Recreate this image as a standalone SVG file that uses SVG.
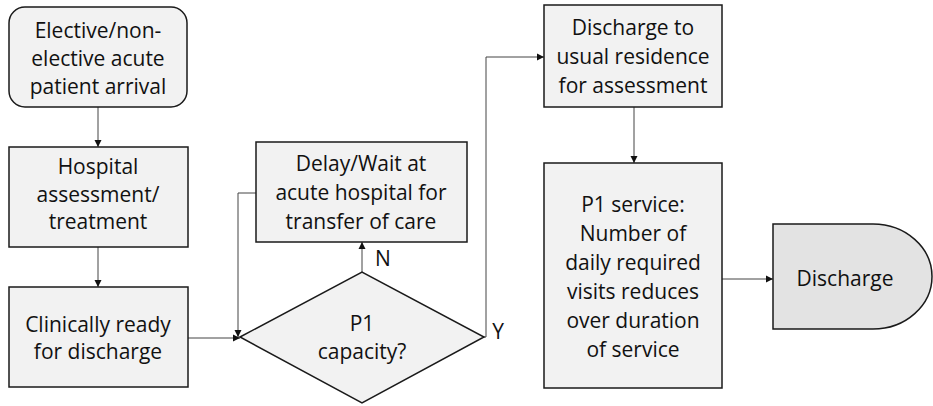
<svg xmlns="http://www.w3.org/2000/svg" width="933" height="406" viewBox="0 0 933 406">
<defs>
<style>
.box{fill:#f2f2f2;stroke:#1a1a1a;stroke-width:1.5}
.dark{fill:#e3e3e3;stroke:#1a1a1a;stroke-width:1.5}
.t{font-family:"Open Sans","Liberation Sans",sans-serif;font-size:21px;fill:#111;text-anchor:middle}
.c{fill:none;stroke:#444;stroke-width:1}
</style>
<marker id="ah" markerWidth="8" markerHeight="8" refX="7" refY="4" orient="auto" markerUnits="userSpaceOnUse">
<path d="M0,0.5 L7,4 L0,7.5 Z" fill="#111"/>
</marker>
</defs>
<rect width="933" height="406" fill="#fff"/>
<g id="connectors">
<line class="c" x1="98" y1="107" x2="98" y2="147" marker-end="url(#ah)"/>
<line class="c" x1="98" y1="247" x2="98" y2="287" marker-end="url(#ah)"/>
<line class="c" x1="188" y1="338" x2="240" y2="338" marker-end="url(#ah)"/>
<polyline class="c" points="256,193 238,193 238,337" marker-end="url(#ah)"/>
<line class="c" x1="362" y1="272" x2="362" y2="242" marker-end="url(#ah)"/>
<polyline class="c" points="484,337 486,337 486,57 544,57" marker-end="url(#ah)"/>
<line class="c" x1="634" y1="107" x2="634" y2="163" marker-end="url(#ah)"/>
<line class="c" x1="722" y1="279" x2="773" y2="279" marker-end="url(#ah)"/>
<text class="t" x="383" y="266">N</text>
<text class="t" x="498" y="339">Y</text>
</g>
<g id="arrival">
<rect class="box" x="9" y="7" width="178" height="100" rx="16"/>
<text class="t" x="98" y="38">Elective/non-</text>
<text class="t" x="98" y="66">elective acute</text>
<text class="t" x="98" y="94">patient arrival</text>
</g>
<g id="assessment">
<rect class="box" x="9" y="147" width="179" height="100"/>
<text class="t" x="98" y="174">Hospital</text>
<text class="t" x="98" y="202">assessment/</text>
<text class="t" x="98" y="229">treatment</text>
</g>
<g id="ready">
<rect class="box" x="9" y="287" width="179" height="100"/>
<text class="t" x="98" y="332">Clinically ready</text>
<text class="t" x="98" y="359">for discharge</text>
</g>
<g id="delay">
<rect class="box" x="256" y="142" width="211" height="100"/>
<text class="t" x="361" y="171">Delay/Wait at</text>
<text class="t" x="361" y="200">acute hospital for</text>
<text class="t" x="361" y="229">transfer of care</text>
</g>
<g id="decision">
<polygon class="box" points="240,337 362,272 484,337 362,403"/>
<text class="t" x="362" y="331">P1</text>
<text class="t" x="362" y="359">capacity?</text>
</g>
<g id="discharge-to">
<rect class="box" x="544" y="5" width="178" height="102"/>
<text class="t" x="633" y="35">Discharge to</text>
<text class="t" x="633" y="64">usual residence</text>
<text class="t" x="633" y="93">for assessment</text>
</g>
<g id="p1service">
<rect class="box" x="544" y="163" width="178" height="225"/>
<text class="t" x="633" y="212">P1 service:</text>
<text class="t" x="633" y="241">Number of</text>
<text class="t" x="633" y="270">daily required</text>
<text class="t" x="633" y="299">visits reduces</text>
<text class="t" x="633" y="328">over duration</text>
<text class="t" x="633" y="357">of service</text>
</g>
<g id="discharge">
<path class="dark" d="M773,224 L873,224 A59,52.5 0 0 1 873,329 L773,329 Z"/>
<text class="t" x="845" y="286">Discharge</text>
</g>
</svg>
